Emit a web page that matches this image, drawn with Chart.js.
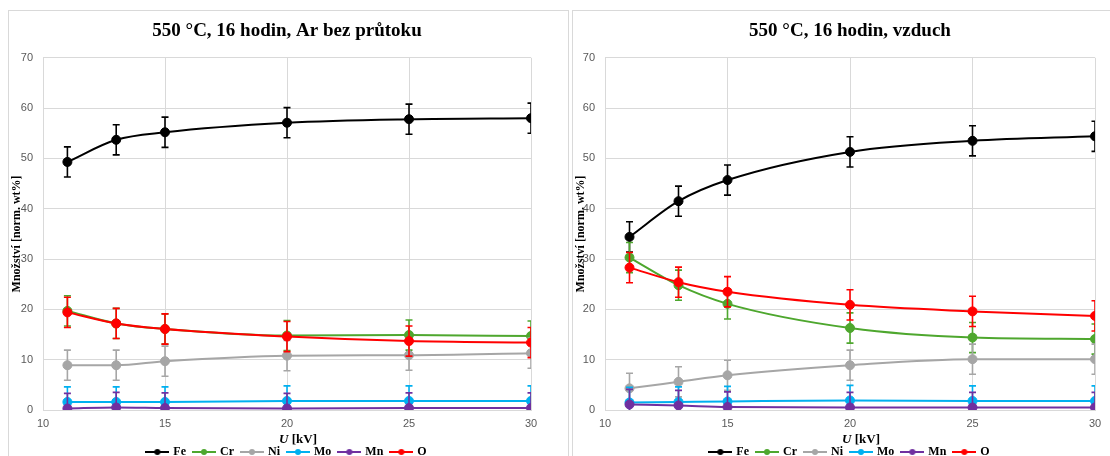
<!DOCTYPE html>
<html>
<head>
<meta charset="utf-8">
<script src="https://cdn.jsdelivr.net/npm/chart.js@4/dist/chart.umd.min.js"></script>
<style>
  body { margin: 0; background: #fff; width: 1110px; height: 456px; overflow: hidden; position: relative; }
  .panel { position: absolute; top: 10px; height: 470px; border: 1px solid #d9d9d9; background: #fff; }
  .panel canvas { position: absolute; left: 0; top: 0; }
</style>
</head>
<body>
<div class="panel" style="left:8px; width:559px;"><canvas id="chartAr" width="556" height="457"></canvas></div>
<div class="panel" style="left:572px; width:600px;"><canvas id="chartAir" width="554" height="457"></canvas></div>
<script>
// napětí [kV]
const kv = [11, 13, 15, 20, 25, 30];

// 550 °C, 16 hodin, Ar bez průtoku
const arFe = [49.3, 53.7, 55.2, 57.1, 57.8, 58.0];
const arCr = [19.7, 17.2, 16.1, 14.8, 14.9, 14.7];
const arNi = [8.9, 8.9, 9.7, 10.8, 10.9, 11.3];
const arMo = [1.6, 1.6, 1.6, 1.8, 1.8, 1.8];
const arMn = [0.3, 0.5, 0.4, 0.3, 0.4, 0.4];
const arO = [19.4, 17.2, 16.1, 14.6, 13.7, 13.4];

// 550 °C, 16 hodin, vzduch
const airFe = [34.4, 41.5, 45.7, 51.3, 53.5, 54.4];
const airCr = [30.3, 24.8, 21.1, 16.3, 14.4, 14.1];
const airNi = [4.3, 5.6, 6.9, 8.9, 10.1, 10.1];
const airMo = [1.5, 1.6, 1.7, 1.9, 1.8, 1.8];
const airMn = [1.1, 0.9, 0.6, 0.5, 0.5, 0.5];
const airO = [28.3, 25.4, 23.5, 20.9, 19.6, 18.7];

// chybové úsečky (pevná hodnota)
const ERR = 3;

const labels = ["Fe", "Cr", "Ni", "Mo", "Mn", "O"];
const colors = ["#000000", "#4ea72e", "#a6a6a6", "#00b0f0", "#7030a0", "#ff0000"];

const serif = "'Liberation Serif', 'Times New Roman', serif";
const sans = "'Liberation Sans', Arial, sans-serif";

function legendIcon(color) {
  const c = document.createElement("canvas");
  c.width = 24; c.height = 10;
  const g = c.getContext("2d");
  g.strokeStyle = color; g.fillStyle = color; g.lineWidth = 2;
  g.beginPath(); g.moveTo(0, 5); g.lineTo(24, 5); g.stroke();
  g.beginPath(); g.arc(12, 5, 3, 0, Math.PI * 2); g.fill();
  return c;
}

const errorBars = {
  id: "errorBars",
  afterDatasetDraw(chart, args) {
    const ds = chart.data.datasets[args.index];
    const { ctx, chartArea: a, scales: { y } } = chart;
    ctx.save();
    ctx.beginPath();
    ctx.rect(a.left, a.top, a.right - a.left, a.bottom - a.top);
    ctx.clip();
    ctx.strokeStyle = ds.borderColor;
    ctx.lineWidth = 1.6;
    args.meta.data.forEach((pt, i) => {
      const v = ds.data[i].y;
      const t = y.getPixelForValue(v + ERR);
      const b = y.getPixelForValue(v - ERR);
      ctx.beginPath();
      ctx.moveTo(pt.x, t); ctx.lineTo(pt.x, b);
      ctx.moveTo(pt.x - 3.5, t); ctx.lineTo(pt.x + 3.5, t);
      ctx.moveTo(pt.x - 3.5, b); ctx.lineTo(pt.x + 3.5, b);
      ctx.stroke();
    });
    ctx.restore();
  }
};

// název osy x: kurzíva jen pro U
const xTitle = {
  id: "xTitle",
  afterDraw(chart) {
    const { ctx, chartArea: a } = chart;
    ctx.save();
    ctx.fillStyle = "#000";
    ctx.textBaseline = "middle";
    ctx.font = "italic bold 13px " + serif;
    const wU = ctx.measureText("U").width;
    ctx.font = "bold 13px " + serif;
    const rest = " [kV]";
    const wR = ctx.measureText(rest).width;
    const cx = (a.left + a.right) / 2 + 11;
    const x0 = cx - (wU + wR) / 2;
    const yy = a.bottom + 30;
    ctx.font = "italic bold 13px " + serif;
    ctx.fillText("U", x0, yy);
    ctx.font = "bold 13px " + serif;
    ctx.fillText(rest, x0 + wU, yy);
    ctx.restore();
  }
};

function makeChart(id, title, series, yWidth) {
  const datasets = series.map((vals, i) => ({
    label: labels[i],
    data: kv.map((x, j) => ({ x: x, y: vals[j] })),
    borderColor: colors[i],
    backgroundColor: colors[i],
    pointBackgroundColor: colors[i],
    pointBorderColor: colors[i],
    borderWidth: 2,
    pointRadius: 4.5,
    pointBorderWidth: 1,
    cubicInterpolationMode: "monotone",
    fill: false,
    order: series.length - i
  }));

  return new Chart(document.getElementById(id).getContext("2d"), {
    type: "line",
    data: { datasets: datasets },
    options: {
      responsive: false,
      animation: false,
      layout: { padding: 0 },
      plugins: {
        tooltip: { enabled: false },
        title: {
          display: true,
          text: title,
          color: "#000",
          font: { family: serif, size: 19, weight: "bold" },
          padding: { top: 9, bottom: 15 }
        },
        legend: {
          position: "bottom",
          labels: {
            usePointStyle: true,
            pointStyleWidth: 20,
            padding: 8,
            color: "#000",
            font: { family: serif, size: 12, weight: "bold" },
            generateLabels: (ch) => ch.data.datasets.map((ds, i) => ({
              text: ds.label,
              pointStyle: legendIcon(ds.borderColor),
              fillStyle: ds.borderColor,
              strokeStyle: ds.borderColor,
              lineWidth: 0,
              fontColor: "#000",
              hidden: false,
              datasetIndex: i
            }))
          }
        }
      },
      scales: {
        x: {
          type: "linear",
          min: 10,
          max: 30,
          ticks: { stepSize: 5, color: "#595959", font: { family: sans, size: 11 }, padding: 7 },
          grid: { color: "#d9d9d9", drawTicks: false },
          border: { color: "#d9d9d9" },
          afterFit: (s) => { s.height = 28; s.paddingRight = yWidth; }
        },
        y: {
          min: 0,
          max: 70,
          ticks: { stepSize: 10, color: "#595959", font: { family: sans, size: 11 }, padding: 10 },
          grid: { color: "#d9d9d9", drawTicks: false },
          border: { color: "#d9d9d9" },
          title: {
            display: true,
            text: "Množství [norm. wt%]",
            color: "#000",
            font: { family: serif, size: 12, weight: "bold" },
            padding: { top: 1, bottom: 0 }
          },
          afterFit: (s) => { s.width = yWidth; }
        }
      }
    },
    plugins: [errorBars, xTitle]
  });
}

makeChart("chartAr", "550 °C, 16 hodin, Ar bez průtoku", [arFe, arCr, arNi, arMo, arMn, arO], 34);
makeChart("chartAir", "550 °C, 16 hodin, vzduch", [airFe, airCr, airNi, airMo, airMn, airO], 32);
</script>
</body>
</html>
